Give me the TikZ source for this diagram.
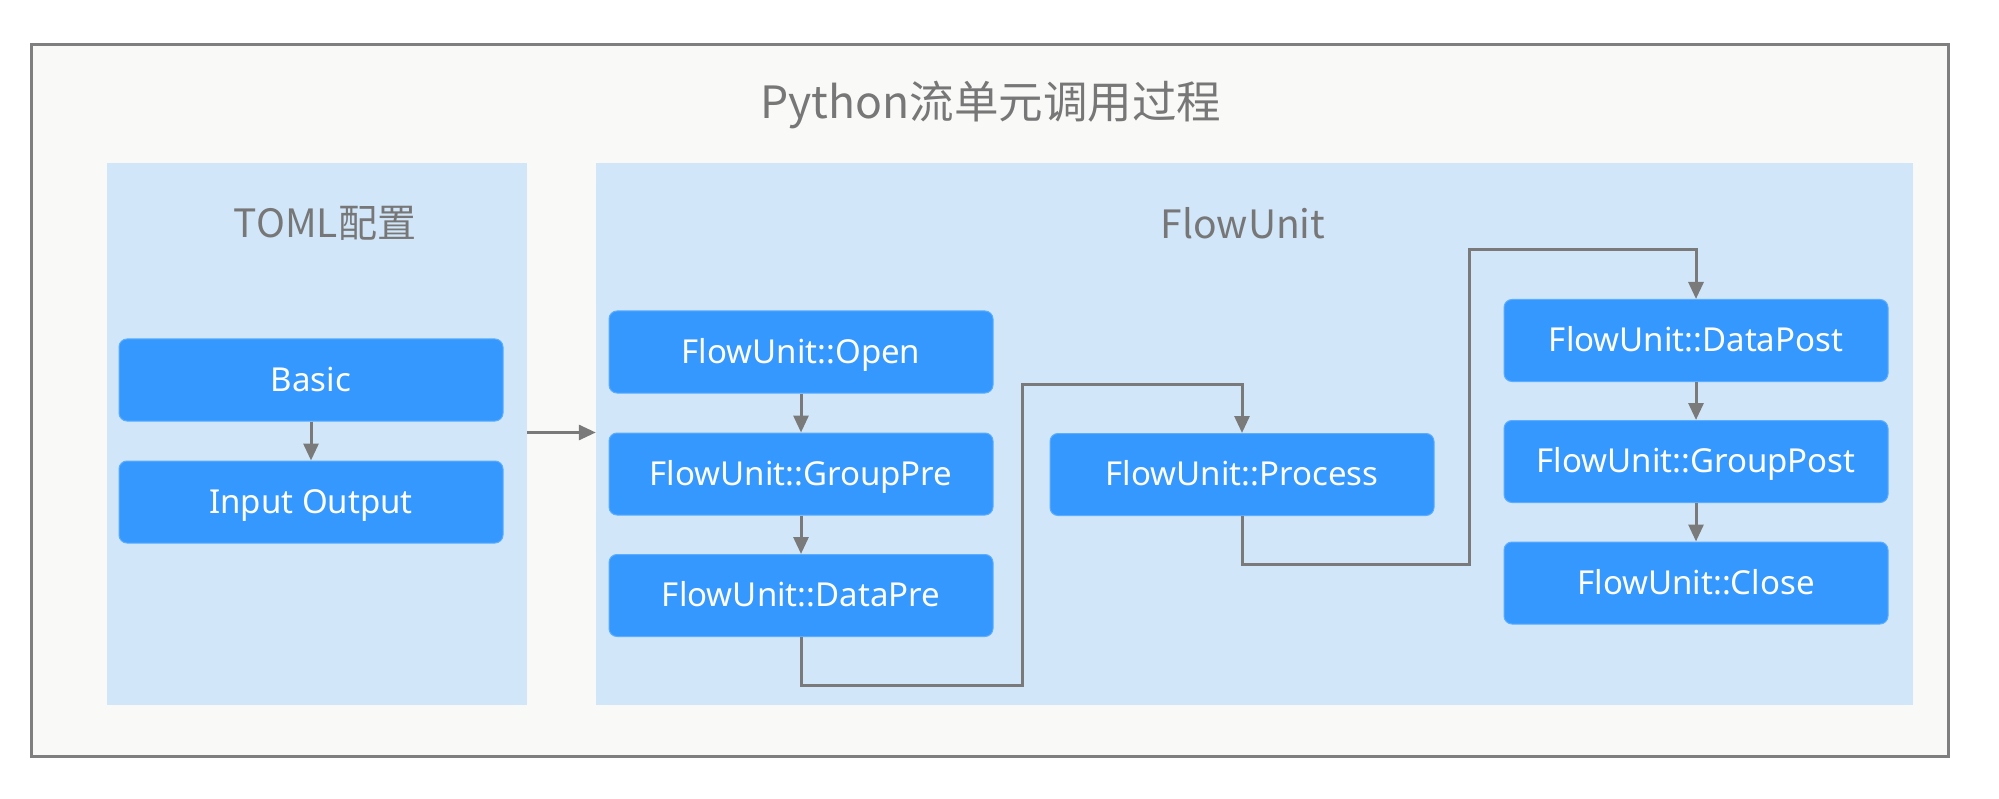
\documentclass[tikz,border=0pt]{standalone}
\usepackage{fontspec}
\setmainfont{Noto Sans CJK SC}
\newfontfamily\boxfont{Noto Sans}
\usetikzlibrary{arrows.meta}
\definecolor{framebg}{HTML}{F9F9F7}
\definecolor{framegray}{HTML}{7F7F7F}
\definecolor{panelblue}{HTML}{D1E6F9}
\definecolor{boxblue}{HTML}{3598FE}
\definecolor{boxedge}{HTML}{5AADFF}
\definecolor{txtgray}{HTML}{777777}
\definecolor{linegray}{HTML}{7A7A7A}
\tikzset{
  panel/.style={fill=panelblue, draw=none, minimum width=#1, inner sep=0pt, minimum height=542pt},
  stepbox/.style={fill=boxblue, draw=boxedge, line width=1pt, rounded corners=8pt, minimum width=384pt, minimum height=82pt, inner sep=0pt, text height=22pt, text depth=0pt, text=white, font=\boxfont\fontsize{33}{38}\selectfont},
  heading/.style={text=txtgray, font=\fontsize{39}{45}\selectfont, inner sep=0pt},
  arr/.style={draw=linegray, line width=3pt, -{Triangle[width=15pt,length=17pt]}},
  lin/.style={draw=linegray, line width=3pt}
}
\begin{document}
\begin{tikzpicture}[x=1pt,y=-1pt]
\useasboundingbox (0,0) rectangle (1999,799);
\fill[white] (0,0) rectangle (1999,799);
\node[draw=framegray, fill=framebg, line width=3pt, minimum width=1917pt, minimum height=711pt, inner sep=0pt] (frame) at (989.5,400.5) {};
\node[text=txtgray, font=\fontsize{44.5}{50}\selectfont, inner sep=0pt] (title) at (991,105) {Python流单元调用过程};
\node[panel=420pt] (lp) at (317,434) {};
\node[panel=1317pt] (rp) at (1254.5,434) {};
\node[heading] (lt) at (325,223) {TOML配置};
\node[heading] (rt) at (1243,223) {FlowUnit};
\node[stepbox] (basic) at (311,380) {Basic};
\node[stepbox] (io) at (311,502) {Input Output};
\node[stepbox] (open) at (801,352) {FlowUnit::Open};
\node[stepbox] (gpre) at (801,474) {FlowUnit::GroupPre};
\node[stepbox] (dpre) at (801,595.5) {FlowUnit::DataPre};
\node[stepbox] (proc) at (1242,474.5) {FlowUnit::Process};
\node[stepbox] (dpost) at (1696,340.5) {FlowUnit::DataPost};
\node[stepbox] (gpost) at (1696,461.5) {FlowUnit::GroupPost};
\node[stepbox] (close) at (1696,583) {FlowUnit::Close};
\coordinate (c1) at (1022,685);
\coordinate (c2) at (1022,384);
\coordinate (c3) at (1469,564);
\coordinate (c4) at (1469,250);
\draw[arr] (basic) -- (io);
\draw[arr] (lp.east |- gpre.north) -- (rp.west |- gpre.north);
\draw[arr] (open) -- (gpre);
\draw[arr] (gpre) -- (dpre);
\draw[arr] (dpre.south) |- (c1) -- (c2) -| (proc.north);
\draw[arr] (proc.south) |- (c3) -- (c4) -| (dpost.north);
\draw[arr] (dpost) -- (gpost);
\draw[arr] (gpost) -- (close);
\end{tikzpicture}
\end{document}
